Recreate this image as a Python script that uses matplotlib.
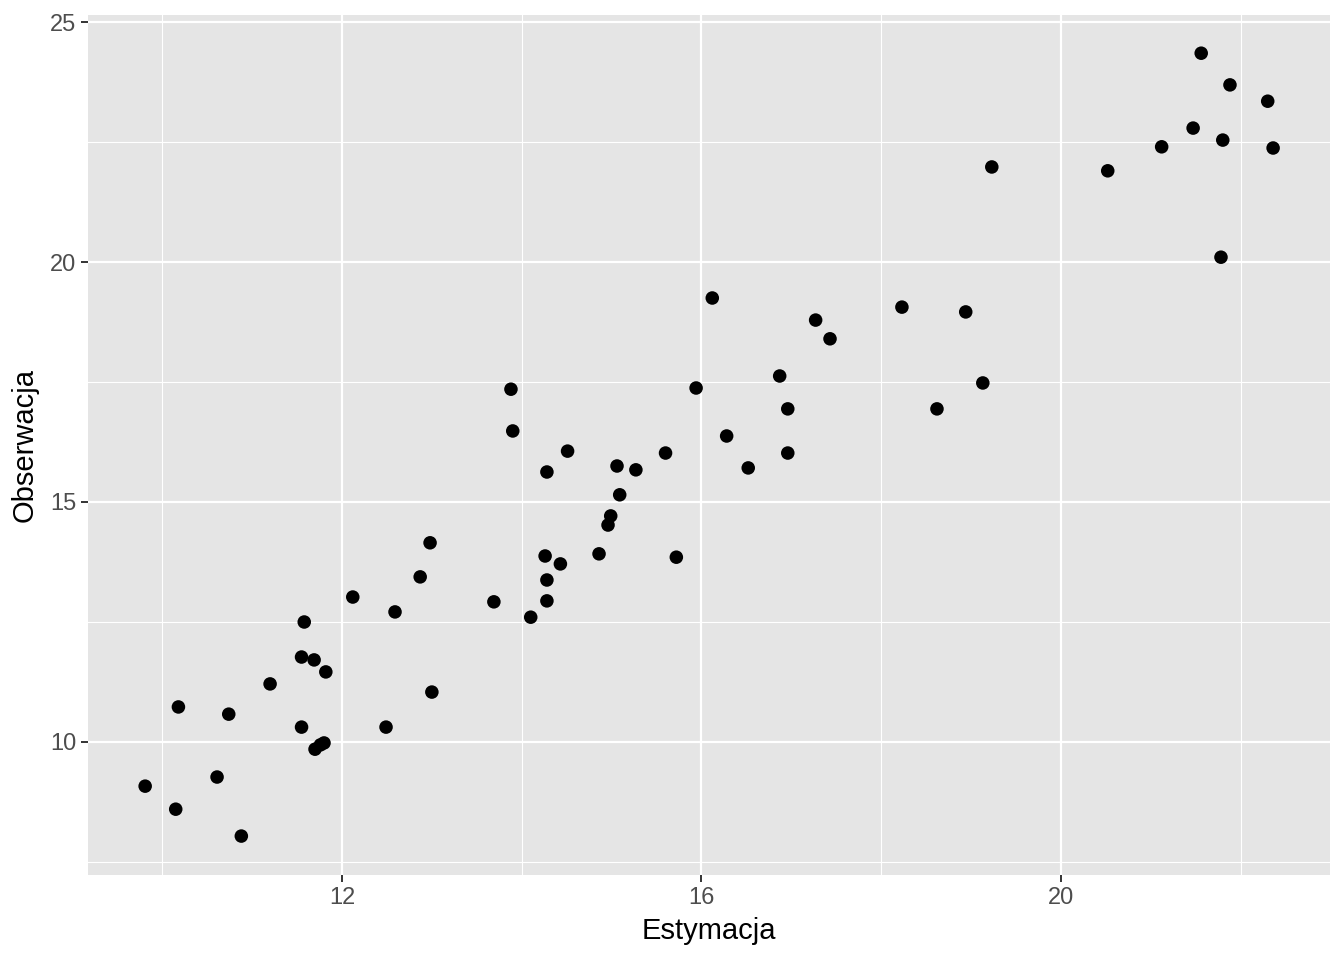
import matplotlib
matplotlib.use("Agg")
import matplotlib.pyplot as plt
from matplotlib.ticker import FixedLocator

estymacja = [9.81, 10.15, 10.18, 10.61, 10.74, 10.88, 11.20, 11.55, 11.58, 11.55,
             11.69, 11.82, 11.70, 11.76, 11.80, 12.12, 12.49, 12.59, 12.87, 12.98,
             13.00, 13.69, 13.88, 13.90, 14.10, 14.26, 14.28, 14.28, 14.28, 14.43,
             14.51, 14.86, 14.96, 14.99, 15.06, 15.09, 15.27, 15.60, 15.72, 15.94,
             16.12, 16.28, 16.52, 16.87, 16.96, 16.96, 17.27, 17.43, 18.23, 18.62,
             18.94, 19.13, 19.23, 20.52, 21.12, 21.47, 21.56, 21.78, 21.80, 21.88,
             22.30, 22.36]
obserwacja = [9.08, 8.60, 10.73, 9.27, 10.58, 8.04, 11.21, 11.77, 12.50, 10.31,
              11.71, 11.46, 9.85, 9.94, 9.98, 13.02, 10.31, 12.71, 13.44, 14.15,
              11.04, 12.92, 17.35, 16.48, 12.60, 13.875, 15.625, 13.375, 12.94, 13.71,
              16.06, 13.92, 14.52, 14.71, 15.75, 15.15, 15.67, 16.02, 13.85, 17.375,
              19.25, 16.375, 15.71, 17.625, 16.94, 16.02, 18.79, 18.40, 19.06, 16.94,
              18.96, 17.48, 21.98, 21.90, 22.40, 22.79, 24.35, 20.10, 22.54, 23.69,
              23.35, 22.375]

x_major = [12, 16, 20]
x_minor = [10, 14, 18, 22]
y_major = [10, 15, 20, 25]
y_minor = [7.5, 12.5, 17.5, 22.5]

plt.rcParams['font.family'] = ['Liberation Sans', 'DejaVu Sans']

fig = plt.figure(figsize=(13.44, 9.6), dpi=100)
ax = fig.add_axes([88/1344, 1 - 875/960, (1330-88)/1344, (875-15)/960])
ax.set_facecolor('#E5E5E5')
for s in ax.spines.values():
    s.set_visible(False)

ax.set_xlim(9.174, 22.993)
ax.set_ylim(7.229, 25.146)

ax.xaxis.set_major_locator(FixedLocator(x_major))
ax.xaxis.set_minor_locator(FixedLocator(x_minor))
ax.yaxis.set_major_locator(FixedLocator(y_major))
ax.yaxis.set_minor_locator(FixedLocator(y_minor))

ax.grid(which='major', color='white', linewidth=1.6)
ax.grid(which='minor', color='white', linewidth=0.8)
ax.set_axisbelow(True)

ax.tick_params(which='major', length=5, width=1.4, color='#333333',
               labelsize=17, labelcolor='#4D4D4D', pad=3.5)
ax.tick_params(which='minor', length=0)

ax.scatter(estymacja, obserwacja, s=95, color='black', edgecolors='none', zorder=3)

ax.set_xlabel('Estymacja', fontsize=21, color='black', labelpad=6)
ax.set_ylabel('Obserwacja', fontsize=21, color='black', labelpad=8)

fig.savefig('out.png', dpi=100, facecolor='white')
